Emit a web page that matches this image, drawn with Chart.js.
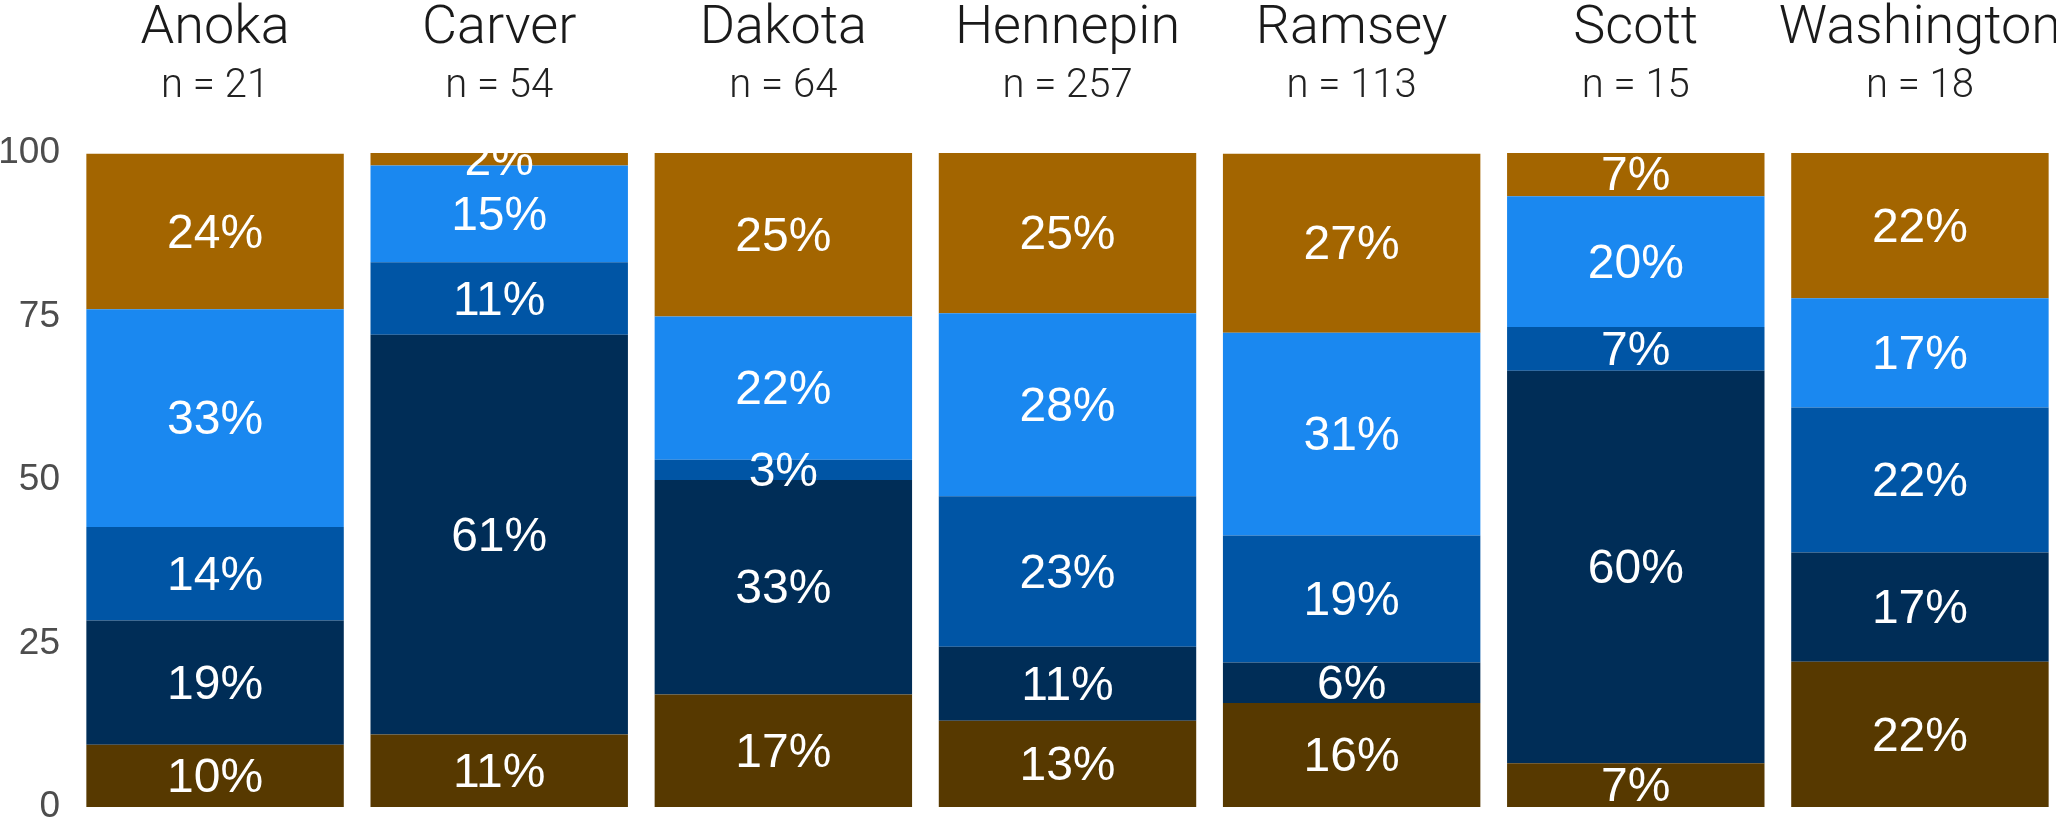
<!DOCTYPE html>
<html>
<head>
<meta charset="utf-8">
<script src="https://cdn.jsdelivr.net/npm/chart.js@4.4.1/dist/chart.umd.min.js"></script>
<style>
  html, body { margin: 0; padding: 0; background: #fff; overflow: hidden; }
  #wrap { width: 2062px; height: 818px; }
</style>
</head>
<body>
<div id="wrap"><canvas id="myChart"></canvas></div>
<script>
const counties = ['Anoka', 'Carver', 'Dakota', 'Hennepin', 'Ramsey', 'Scott', 'Washington']
const sampleSizes = [21, 54, 64, 257, 113, 15, 18]
const yTicks = [0, 25, 50, 75, 100]

// percent of each county, stacked from the bottom segment up
const seg1 = [9.5, 11.1, 17.2, 13.2, 15.9, 6.7, 22.2]
const seg2 = [19.0, 61.1, 32.8, 11.3, 6.2, 60.0, 16.7]
const seg3 = [14.3, 11.1, 3.1, 23.0, 19.4, 6.7, 22.2]
const seg4 = [33.3, 14.8, 21.9, 28.0, 31.0, 20.0, 16.7]
const seg5 = [23.8, 1.9, 25.0, 24.5, 27.4, 6.7, 22.2]

const COLORS = ['#573900', '#002d57', '#0055a5', '#1a88f0', '#a36500']

const segmentLabels = {
  id: 'segmentLabels',
  afterDatasetsDraw(chart) {
    const { ctx, chartArea } = chart
    ctx.save()
    ctx.beginPath()
    ctx.rect(chartArea.left, chartArea.top, chartArea.width, chartArea.height)
    ctx.clip()
    ctx.fillStyle = '#ffffff'
    ctx.font = '48px "Liberation Sans", Arial, sans-serif'
    ctx.textAlign = 'center'
    ctx.textBaseline = 'middle'
    chart.data.datasets.forEach((ds, i) => {
      chart.getDatasetMeta(i).data.forEach((bar, j) => {
        const { x, y, base } = bar.getProps(['x', 'y', 'base'], true)
        ctx.fillText(`${Math.round(ds.data[j])}%`, x, (y + base) / 2 + 3)
      })
    })
    ctx.restore()
  },
}

const data = {
  labels: counties,
  datasets: [seg1, seg2, seg3, seg4, seg5].map((values, i) => ({
    label: `Segment ${i + 1}`,
    data: values,
    backgroundColor: COLORS[i],
    borderWidth: 0,
    barPercentage: 0.906,
    categoryPercentage: 1,
  })),
}

const noGrid = { display: false, drawTicks: false }

const ctx = document.getElementById('myChart').getContext('2d')
const myChart = new Chart(ctx, {
  type: 'bar',
  data,
  plugins: [segmentLabels],
  options: {
    responsive: true,
    maintainAspectRatio: false,
    animation: false,
    layout: { padding: { top: 0, left: 0, right: 0, bottom: 11 } },
    plugins: {
      legend: { display: false },
      tooltip: { enabled: false },
    },
    scales: {
      x: {
        position: 'top',
        stacked: true,
        offset: true,
        grid: noGrid,
        border: { display: false },
        ticks: {
          autoSkip: false,
          maxRotation: 0,
          padding: 46,
          color: '#222222',
          font: { family: 'Roboto, "Liberation Sans", sans-serif', weight: 300, size: 40, lineHeight: 1 },
          callback: (value, index) => `n = ${sampleSizes[index]}`,
        },
        afterFit(scale) {
          scale.height = 90
          scale.paddingLeft = 0
          scale.paddingRight = 0
        },
      },
      names: {
        type: 'category',
        position: 'top',
        weight: 1,
        offset: true,
        grid: noGrid,
        border: { display: false },
        ticks: {
          autoSkip: false,
          maxRotation: 0,
          padding: 7,
          color: '#1a1a1a',
          font: { family: 'Roboto, "Liberation Sans", sans-serif', weight: 300, size: 54, lineHeight: 1 },
        },
        afterFit(scale) {
          scale.height = 63
          scale.paddingLeft = 0
          scale.paddingRight = 0
        },
      },
      y: {
        stacked: true,
        min: 0,
        max: 100,
        grid: noGrid,
        border: { display: false },
        afterBuildTicks(scale) {
          scale.ticks = yTicks.map((value) => ({ value }))
        },
        ticks: {
          padding: 13,
          color: '#4d4d4d',
          font: { family: '"Liberation Sans Narrow", "Liberation Sans", sans-serif', size: 37, lineHeight: 1 },
        },
        afterFit(scale) {
          scale.width = 73
          scale.paddingTop = 0
          scale.paddingBottom = 0
        },
      },
    },
  },
})
</script>
</body>
</html>
